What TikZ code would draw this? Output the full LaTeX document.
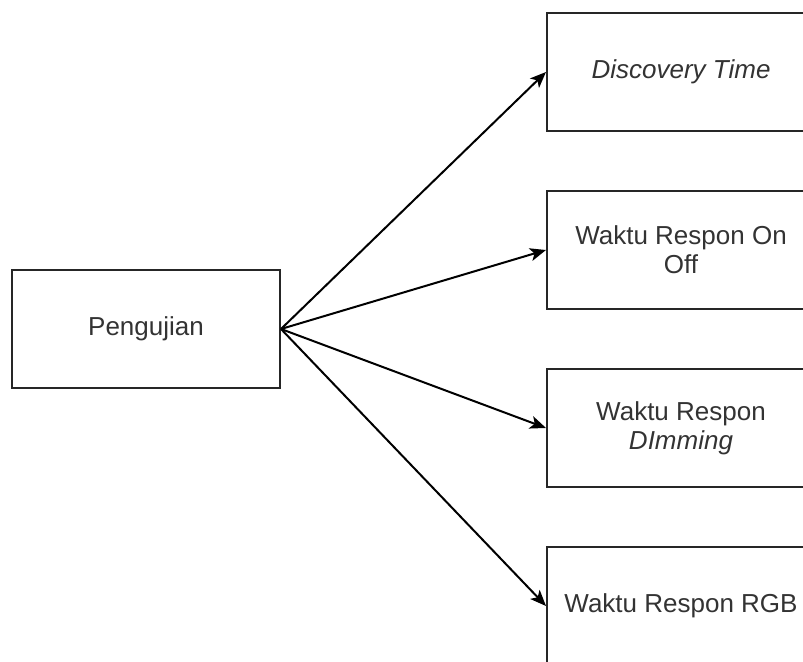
\documentclass[tikz,border=0pt]{standalone}
\usepackage{fontspec}
\setmainfont{Liberation Sans}
\usetikzlibrary{arrows.meta}

\begin{document}
\begin{tikzpicture}[x=0.5pt, y=-0.5pt,
    kotak/.style={draw=black!85, line width=1pt, minimum width=134pt, minimum height=59pt,
        align=center, inner sep=0pt, text=black!80, font=\fontsize{13}{14.5}\selectfont},
    panah/.style={-{Stealth[length=8pt,width=6.5pt,inset=2pt]}, line width=1pt, draw=black}]
\clip (0,0) rectangle (803,662);
\node[kotak] (uji) at (146,329) {Pengujian};
\node[kotak] (disc) at (681,72) {\textit{Discovery Time}};
\node[kotak] (onoff) at (681,250) {Waktu Respon On\\Off};
\node[kotak] (dim) at (681,428) {Waktu Respon\\\textit{DImming}};
\node[kotak] (rgb) at (681,606) {Waktu Respon RGB};
\foreach \t in {disc,onoff,dim,rgb}
    \draw[panah] (uji.east) -- (\t.west);
\end{tikzpicture}
\end{document}
